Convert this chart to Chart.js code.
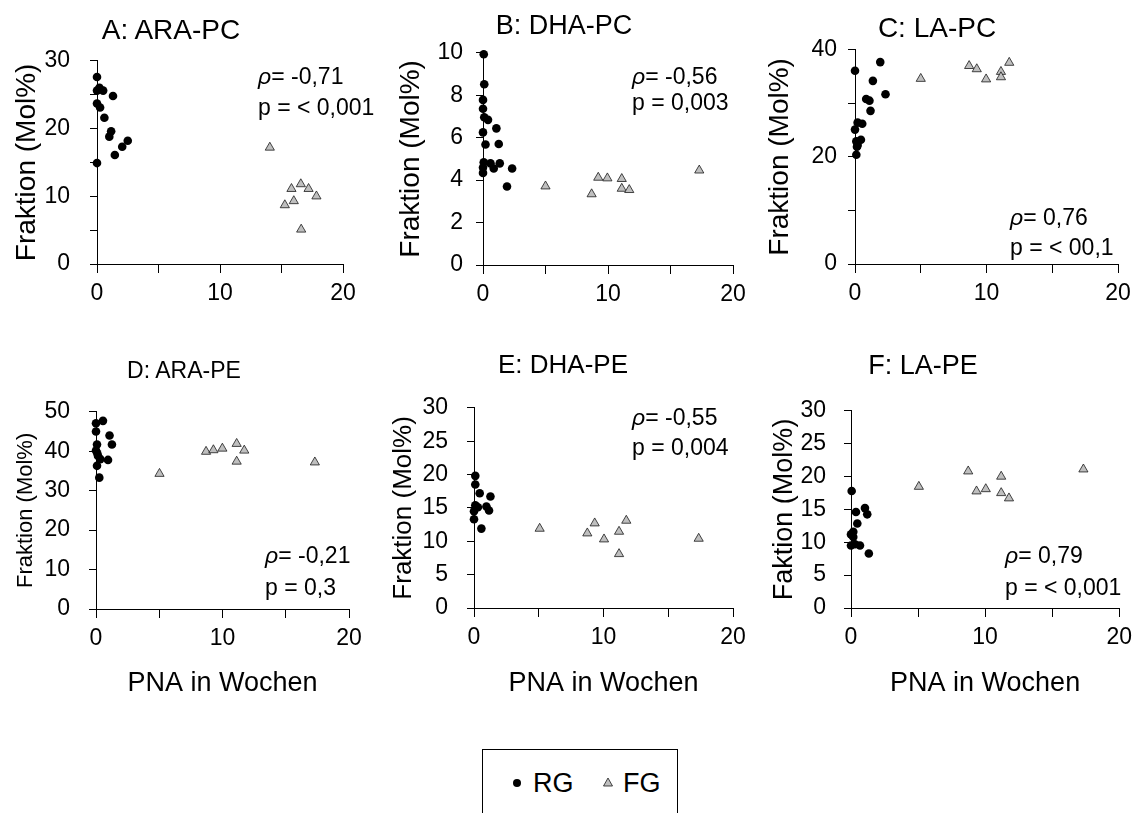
<!DOCTYPE html>
<html>
<head>
<meta charset="utf-8">
<script src="https://cdn.jsdelivr.net/npm/chart.js@4.4.0/dist/chart.umd.min.js"></script>
<style>
  body { margin: 0; background: #fff; width: 1139px; height: 813px; overflow: hidden; position: relative;
         font-family: 'Liberation Sans', Arial, sans-serif; color: #000; }
  canvas { position: absolute; }
  .t { position: absolute; line-height: 1; white-space: nowrap; }
  #legend { position: absolute; left: 482px; top: 749px; width: 196px; height: 100px;
            border: 1px solid #000; box-sizing: border-box; }
</style>
</head>
<body>
<div id="legend"></div>
<script>
// values: [PNA in weeks, fraction in Mol%]
const araPC_RG = [[0,27.6],[0.2,26.0],[0,25.6],[0.5,25.6],[1.3,24.8],[0,23.7],[0.25,23.1],[0.6,21.6],[1.15,19.6],[1.0,18.8],[2.5,18.2],[2.05,17.3],[1.45,16.1],[0,14.9]]
const araPC_FG = [[14.05,17.2],[15.27,8.7],[15.81,11.1],[16.0,9.3],[16.57,11.8],[17.2,11.1],[17.84,10.0],[16.6,5.1]]

const dhaPC_RG = [[0.06,9.93],[0.1,8.52],[0,7.78],[0,7.36],[0.1,6.96],[0.4,6.84],[1.07,6.44],[0,6.25],[0.2,5.68],[1.26,5.7],[0.06,4.84],[0.6,4.79],[1.34,4.79],[0,4.59],[0.86,4.55],[0,4.34],[2.33,4.55],[1.92,3.7]]
const dhaPC_FG = [[5.0,3.71],[8.69,3.34],[9.22,4.12],[9.95,4.09],[11.1,4.06],[11.1,3.6],[11.7,3.54],[17.3,4.46]]

const laPC_RG = [[1.92,37.7],[0,36.1],[1.36,34.2],[2.32,31.7],[0.85,30.8],[1.1,30.5],[1.18,28.6],[0.2,26.4],[0.55,26.2],[0,25.1],[0.45,23.2],[0.1,22.9],[0.2,22.2],[0.15,21.9],[0.1,20.4]]
const laPC_FG = [[5.0,34.6],[8.68,37.0],[9.26,36.4],[9.97,34.5],[11.1,35.9],[11.1,34.9],[11.73,37.6]]

const araPE_RG = [[0,47.1],[0.55,47.7],[0,45.0],[1.07,44.0],[0.08,41.7],[1.26,41.7],[0,40.2],[0.1,39.5],[0.16,38.8],[0.34,38.0],[0.95,37.8],[0.08,36.3],[0.26,33.3]]
const araPE_FG = [[5.02,34.3],[8.7,39.9],[9.28,40.3],[9.99,40.7],[11.12,41.9],[11.12,37.4],[11.72,40.2],[17.3,37.2]]

const dhaPE_RG = [[0.1,19.8],[0.1,18.5],[0.44,17.2],[1.27,16.7],[0.1,15.4],[0.3,15.1],[0.96,15.2],[1.16,14.6],[0,14.5],[0,13.3],[0.57,11.9]]
const dhaPE_FG = [[5.07,11.9],[8.75,11.2],[9.32,12.7],[10.04,10.3],[11.2,11.45],[11.2,8.1],[11.76,13.1],[17.35,10.4]]

const laPE_RG = [[0.05,17.8],[0.37,14.6],[1.04,15.2],[1.21,14.25],[0.47,12.85],[0.17,11.6],[0,11.2],[0.17,10.8],[0,9.5],[0.3,9.7],[0.67,9.5],[1.33,8.3]]
const laPE_FG = [[8.74,20.8],[5.06,18.46],[9.36,17.76],[10.05,18.1],[11.2,20.0],[11.2,17.5],[11.78,16.7],[17.33,21.1]]

// tick labels
const xLabels = [0, 10, 20]
const yLabelsA = [0, 10, 20, 30]
const yLabelsB = [0, 2, 4, 6, 8, 10]
const yLabelsC = [0, 20, 40]
const yLabelsD = [0, 10, 20, 30, 40, 50]
const yLabelsE = [0, 5, 10, 15, 20, 25, 30]
const yLabelsF = [0, 5, 10, 15, 20, 25, 30]

// correlation texts
const rhoTexts = ['-0,71', '-0,56', '0,76', '-0,21', '-0,55', '0,79']
const pTexts = ['< 0,001', '0,003', '< 00,1', '0,3', '0,004', '< 0,001']

const panels = [
  {id: 'A', title: 'A: ARA-PC', yTitle: 'Fraktion (Mol%)', rg: araPC_RG, fg: araPC_FG, yMax: 30, yStep: 5, yLabels: yLabelsA},
  {id: 'B', title: 'B: DHA-PC', yTitle: 'Fraktion (Mol%)', rg: dhaPC_RG, fg: dhaPC_FG, yMax: 10, yStep: 2, yLabels: yLabelsB},
  {id: 'C', title: 'C: LA-PC', yTitle: 'Fraktion (Mol%)', rg: laPC_RG, fg: laPC_FG, yMax: 40, yStep: 10, yLabels: yLabelsC},
  {id: 'D', title: 'D: ARA-PE', yTitle: 'Fraktion (Mol%)', rg: araPE_RG, fg: araPE_FG, yMax: 50, yStep: 10, yLabels: yLabelsD},
  {id: 'E', title: 'E: DHA-PE', yTitle: 'Fraktion (Mol%)', rg: dhaPE_RG, fg: dhaPE_FG, yMax: 30, yStep: 5, yLabels: yLabelsE},
  {id: 'F', title: 'F: LA-PE', yTitle: 'Faktion (Mol%)', rg: laPE_RG, fg: laPE_FG, yMax: 30, yStep: 5, yLabels: yLabelsF}
]

// where things sit on the page (chart area, titles, notes)
const boxes = {
  A: {l: 97, t: 42, r: 343, b: 264, yt: 27, ytSize: 28, yPad: 20, bottomRow: false,
      title: [171, 40, 28], note: [258, 84, 115]},
  B: {l: 483, t: 41, r: 733, b: 265, yt: 411, ytSize: 28, yPad: 13, bottomRow: false,
      title: [564, 35, 27], note: [632, 84, 110]},
  C: {l: 855, t: 40, r: 1118, b: 264, yt: 780, ytSize: 28, yPad: 11, bottomRow: false,
      title: [937, 38, 28], note: [1010, 225, 255]},
  D: {l: 96, t: 394, r: 349, b: 609, yt: 26, ytSize: 22, yPad: 19, bottomRow: true,
      title: [184, 378, 23], note: [265, 563, 595]},
  E: {l: 474, t: 390, r: 733, b: 608, yt: 404, ytSize: 26, yPad: 19, bottomRow: true,
      title: [563, 373, 26], note: [632, 425, 455]},
  F: {l: 851, t: 394, r: 1121, b: 608, yt: 784, ytSize: 27, yPad: 18, bottomRow: true,
      title: [923, 375, 27], note: [1005, 563, 595]}
}

const FONT = "'Liberation Sans', Arial, sans-serif"

const addText = (html, x, baseline, size, center) => {
  const d = document.createElement('div')
  d.className = 't'
  d.innerHTML = html
  d.style.fontSize = size + 'px'
  d.style.left = x + 'px'
  d.style.top = (baseline - 0.847 * size) + 'px'
  if (center) d.style.transform = 'translateX(-50%)'
  document.body.appendChild(d)
}

const toPoints = arr => arr.map(([x, y]) => ({x: x, y: y}))

const makePanel = (p, i) => {
  const b = boxes[p.id]
  const left = Math.round(b.yt - 0.6 * b.ytSize)
  const top = b.t - 15
  const right = Math.min(b.r + 25, 1139)
  const bottom = b.bottomRow ? 700 : b.b + 50
  const ML = b.l - left
  const MR = right - b.r
  const MB = bottom - b.b

  const cv = document.createElement('canvas')
  cv.width = right - left
  cv.height = bottom - top
  cv.style.left = left + 'px'
  cv.style.top = top + 'px'
  cv.style.width = cv.width + 'px'
  cv.style.height = cv.height + 'px'
  document.body.appendChild(cv)

  new Chart(cv, {
    type: 'scatter',
    data: {
      datasets: [{
        label: 'RG',
        data: toPoints(p.rg),
        pointStyle: 'circle',
        pointRadius: 4.3,
        pointBackgroundColor: '#000',
        pointBorderColor: '#000',
        pointBorderWidth: 0,
        clip: false
      }, {
        label: 'FG',
        data: toPoints(p.fg),
        pointStyle: 'triangle',
        pointRadius: 5.3,
        pointBackgroundColor: '#bfbfbf',
        pointBorderColor: '#1a1a1a',
        pointBorderWidth: 0.8,
        clip: false
      }]
    },
    options: {
      responsive: false,
      animation: false,
      devicePixelRatio: 1,
      layout: {padding: {top: 15, right: MR, left: 0, bottom: 0}},
      plugins: {legend: {display: false}, tooltip: {enabled: false}},
      scales: {
        x: {
          type: 'linear', min: 0, max: 20,
          afterFit: s => { s.height = MB },
          ticks: {stepSize: 5, autoSkip: false, maxRotation: 0, padding: 7, color: '#000',
                  font: {family: FONT, size: 23},
                  callback: v => xLabels.includes(v) ? v : ''},
          grid: {drawOnChartArea: false, drawTicks: true, tickLength: 9, color: '#000', lineWidth: 1},
          border: {display: true, color: '#000', width: 1},
          title: {display: b.bottomRow, text: 'PNA in Wochen', color: '#000', padding: 0,
                  font: {family: FONT, size: 27}}
        },
        y: {
          type: 'linear', min: 0, max: p.yMax,
          afterFit: s => { s.width = ML },
          ticks: {stepSize: p.yStep, autoSkip: false, padding: b.yPad, color: '#000',
                  font: {family: FONT, size: 23},
                  callback: v => p.yLabels.includes(v) ? v : ''},
          grid: {drawOnChartArea: false, drawTicks: true, tickLength: 7, color: '#000', lineWidth: 1},
          border: {display: true, color: '#000', width: 1},
          title: {display: true, text: p.yTitle, color: '#000', padding: 0,
                  font: {family: FONT, size: b.ytSize}}
        }
      }
    }
  })

  const [tx, ty, ts] = b.title
  addText(p.title, tx, ty, ts, true)
  const [nx, n1, n2] = b.note
  addText('<i>\u03c1</i>= ' + rhoTexts[i], nx, n1, 23, false)
  addText('p = ' + pTexts[i], nx, n2, 23, false)
}

panels.forEach(makePanel)

// legend
document.getElementById('legend').innerHTML =
  '<svg width="196" height="100" style="position:absolute;left:-1px;top:-1px">' +
  '<circle cx="35" cy="34" r="4" fill="#000"/>' +
  '<polygon points="126,29 130.5,37 121.5,37" fill="#bfbfbf" stroke="#1a1a1a" stroke-width="0.8"/>' +
  '</svg>'
addText('RG', 533, 793, 27, false)
addText('FG', 623, 793, 27, false)
</script>
</body>
</html>
